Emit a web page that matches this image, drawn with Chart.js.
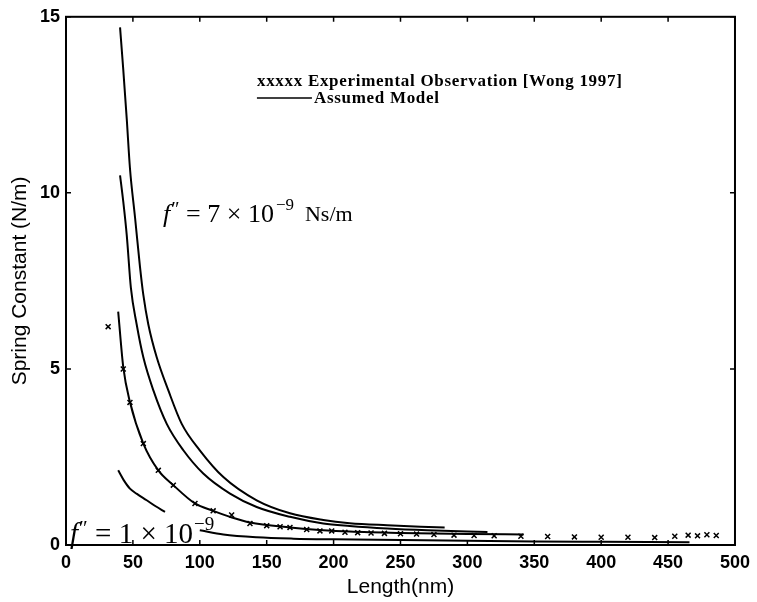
<!DOCTYPE html>
<html>
<head>
<meta charset="utf-8">
<script src="https://cdn.jsdelivr.net/npm/chart.js@4.4.1/dist/chart.umd.min.js"></script>
<style>
  body { margin: 0; background: #fff; }
</style>
</head>
<body>
<canvas id="springChart" width="757" height="602"></canvas>
<script>
// values: length (nm) -> spring constant (N/m)
const expLength = [31.5, 42.8, 47.8, 57.8, 69, 80.2, 96.4, 110, 123.8, 137.5, 150, 160, 167.4, 179.9, 189.8, 198.6, 208.5, 218, 228, 238, 250, 262, 275, 290, 305, 320, 340, 360, 380, 400, 420, 440, 455, 465, 472, 479, 486];
const expSpring = [6.2, 5.0, 4.05, 2.88, 2.12, 1.7, 1.18, 0.97, 0.85, 0.61, 0.55, 0.52, 0.5, 0.44, 0.4, 0.4, 0.36, 0.35, 0.34, 0.33, 0.32, 0.31, 0.3, 0.28, 0.27, 0.26, 0.25, 0.24, 0.23, 0.22, 0.22, 0.21, 0.25, 0.28, 0.26, 0.29, 0.27];

const modelALength = [40.4, 42.8, 45.4, 47.8, 51.6, 55.3, 57.8, 61.5, 67.8, 76.5, 86.5, 100, 117.6, 142.5, 167.4, 192.3, 212, 240, 265, 283];
const modelASpring = [14.7, 13.5, 12.1, 10.7, 9.3, 7.9, 7.1, 6.27, 5.33, 4.39, 3.44, 2.69, 1.93, 1.27, 0.9, 0.71, 0.62, 0.56, 0.52, 0.5];

const modelBLength = [40.4, 42.8, 45.4, 48.5, 52.8, 57.8, 65.3, 75.3, 87.7, 102.6, 122.6, 142.5, 167.4, 192.3, 212, 240, 270, 315];
const modelBSpring = [10.5, 9.75, 8.8, 7.3, 6.27, 5.33, 4.39, 3.44, 2.69, 2.03, 1.46, 1.08, 0.8, 0.61, 0.54, 0.47, 0.42, 0.37];

const modelCLength = [39, 42.8, 47.8, 57.8, 69, 80.2, 96.4, 110, 122.6, 137.5, 167.4, 192.3, 212, 250, 300, 342];
const modelCSpring = [6.63, 5.05, 4.06, 2.88, 2.12, 1.7, 1.18, 0.97, 0.8, 0.64, 0.5, 0.42, 0.38, 0.34, 0.31, 0.3];

// lowest curve is hidden behind the "f'' = 1e-9" label between ~74 and ~100 nm
const modelDLength = [39, 43, 47.8, 53, 60.3, 67, 74, 87, 100, 117.6, 142.5, 170, 200, 250, 300, 350, 400, 466];
const modelDSpring = [2.12, 1.85, 1.6, 1.45, 1.27, 1.1, 0.94, null, 0.42, 0.3, 0.22, 0.18, 0.16, 0.14, 0.12, 0.1, 0.09, 0.08];

const xTicks = [0, 50, 100, 150, 200, 250, 300, 350, 400, 450, 500];
const yTicks = [0, 5, 10, 15];

// annotation anchors in data units [length, spring]
const legendAt = [142.7, 13.15];
const upperLabelAt = [72.5, 9.17];
const lowerLabelAt = [3, 0.06];

function toPoints(xs, ys) {
  return xs.map((x, i) => ({ x: x, y: ys[i] }));
}

function modelLine(xs, ys) {
  return {
    data: toPoints(xs, ys),
    showLine: true,
    borderColor: '#000',
    borderWidth: 2,
    pointRadius: 0,
    cubicInterpolationMode: 'monotone',
    spanGaps: false
  };
}

function drawRun(ctx, x, y, parts) {
  let cx = x;
  parts.forEach(p => {
    ctx.font = p.font;
    ctx.fillText(p.t, cx, y + (p.dy || 0));
    cx += ctx.measureText(p.t).width + (p.gap || 0);
  });
}

const frameAndNotes = {
  id: 'frameAndNotes',
  afterDatasetsDraw(chart) {
    const { ctx, chartArea: a, scales: { x, y } } = chart;
    ctx.save();
    ctx.strokeStyle = '#000';
    ctx.fillStyle = '#000';

    // inward ticks on all four sides
    ctx.lineWidth = 1.5;
    ctx.beginPath();
    xTicks.forEach(v => {
      const px = x.getPixelForValue(v);
      ctx.moveTo(px, a.bottom); ctx.lineTo(px, a.bottom - 5);
      ctx.moveTo(px, a.top); ctx.lineTo(px, a.top + 5);
    });
    yTicks.forEach(v => {
      const py = y.getPixelForValue(v);
      ctx.moveTo(a.left, py); ctx.lineTo(a.left + 5, py);
      ctx.moveTo(a.right, py); ctx.lineTo(a.right - 5, py);
    });
    ctx.stroke();

    ctx.lineWidth = 2;
    ctx.strokeRect(a.left, a.top, a.right - a.left, a.bottom - a.top);

    // legend text
    const lx = x.getPixelForValue(legendAt[0]);
    const ly = y.getPixelForValue(legendAt[1]);
    ctx.textBaseline = 'middle';
    ctx.textAlign = 'left';
    ctx.font = 'bold 17px "Liberation Serif"';
    ctx.letterSpacing = '0.7px';
    ctx.fillText('xxxxx Experimental Observation [Wong 1997]', lx, ly);
    ctx.lineWidth = 1.5;
    ctx.beginPath();
    ctx.moveTo(lx, ly + 16);
    ctx.lineTo(lx + 55, ly + 16);
    ctx.stroke();
    ctx.fillText('Assumed Model', lx + 57, ly + 17);
    ctx.letterSpacing = '0px';

    // f'' labels
    ctx.textBaseline = 'alphabetic';
    drawRun(ctx, x.getPixelForValue(upperLabelAt[0]), y.getPixelForValue(upperLabelAt[1]), [
      { t: 'f', font: 'italic 26px "Liberation Serif"', gap: 1 },
      { t: '\u2033', font: '20px "Liberation Serif"', dy: -6 },
      { t: ' = 7 \u00d7 10', font: '26px "Liberation Serif"', gap: 2 },
      { t: '\u22129', font: '17px "Liberation Serif"', dy: -12 },
      { t: '  Ns/m', font: '22px "Liberation Serif"', dy: -1 }
    ]);
    drawRun(ctx, x.getPixelForValue(lowerLabelAt[0]), y.getPixelForValue(lowerLabelAt[1]), [
      { t: 'f', font: 'italic 29px "Liberation Serif"', gap: 1 },
      { t: '\u2033', font: '21px "Liberation Serif"', dy: -8 },
      { t: ' = 1 \u00d7 10', font: '29px "Liberation Serif"', gap: 1 },
      { t: '\u22129', font: '19px "Liberation Serif"', dy: -13 }
    ]);
    ctx.restore();
  }
};

new Chart(document.getElementById('springChart'), {
  type: 'scatter',
  data: {
    datasets: [
      modelLine(modelALength, modelASpring),
      modelLine(modelBLength, modelBSpring),
      modelLine(modelCLength, modelCSpring),
      modelLine(modelDLength, modelDSpring),
      {
        data: toPoints(expLength, expSpring),
        showLine: false,
        pointStyle: 'crossRot',
        pointRadius: 3.5,
        borderWidth: 1.5,
        borderColor: '#000'
      }
    ]
  },
  options: {
    responsive: false,
    animation: false,
    layout: { padding: { top: 15, right: 22, left: 0, bottom: 0 } },
    plugins: {
      legend: { display: false },
      tooltip: { enabled: false }
    },
    scales: {
      x: {
        type: 'linear',
        min: 0,
        max: 500,
        grid: { display: false, drawTicks: false },
        border: { display: false },
        afterBuildTicks: s => { s.ticks = xTicks.map(v => ({ value: v })); },
        afterFit: s => { s.height = 57; },
        ticks: {
          padding: 7,
          color: '#000',
          maxRotation: 0,
          font: { family: '"Liberation Sans"', size: 18, weight: 'bold' }
        },
        title: {
          display: true,
          text: 'Length(nm)',
          color: '#000',
          padding: { top: 0, bottom: 2 },
          font: { family: '"Liberation Sans"', size: 21 }
        }
      },
      y: {
        type: 'linear',
        min: 0,
        max: 15,
        grid: { display: false, drawTicks: false },
        border: { display: false },
        afterBuildTicks: s => { s.ticks = yTicks.map(v => ({ value: v })); },
        afterFit: s => { s.width = 66; },
        ticks: {
          padding: 6,
          color: '#000',
          font: { family: '"Liberation Sans"', size: 18, weight: 'bold' }
        },
        title: {
          display: true,
          text: 'Spring Constant (N/m)',
          color: '#000',
          padding: { top: 8, bottom: 0 },
          font: { family: '"Liberation Sans"', size: 21 }
        }
      }
    }
  },
  plugins: [frameAndNotes]
});
</script>
</body>
</html>
